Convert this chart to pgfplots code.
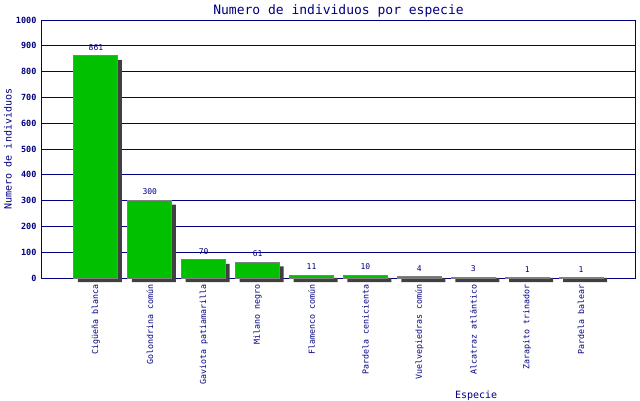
\documentclass[border=0pt]{standalone}
\usepackage{fontspec}
\setmainfont{DejaVu Sans Mono}
\usepackage{pgfplots}
\pgfplotsset{compat=1.18}
\usepackage{pgfplotstable}

\definecolor{navy}{RGB}{0,0,128}
\definecolor{barfill}{RGB}{0,192,0}
\definecolor{bardraw}{RGB}{128,128,128}
\definecolor{shadow}{RGB}{64,64,64}

% individuos por especie, en el orden del eje
% s: altura de la sombra (las barras bajas tienen una sombra minima)
\pgfplotstableread{
x y s
0 861 861
1 300 300
2 70 70
3 61 61
4 11 16
5 10 16
6 4 16
7 3 16
8 1 16
9 1 16
}\especies

\begin{document}
\begin{tikzpicture}
\path[use as bounding box] (0,0) rectangle (640pt,400pt);
\begin{axis}[
    at={(42pt,122pt)}, anchor=south west,
    scale only axis,
    width=593pt, height=258pt,
    xmin=-1, xmax=10,
    ymin=0, ymax=1000,
    clip=false,
    axis line style={navy, line width=1pt},
    major tick length=0pt,
    ytick={0,100,...,1000},
    ymajorgrids=true,
    grid style={navy, line width=1pt},
    /pgf/number format/assume math mode=true,
    /pgf/number format/1000 sep={},
    yticklabel style={font=\fontsize{8.5}{9}\selectfont\bfseries, text=navy, xshift=-2pt},
    xtick={0,...,9},
    xticklabels={Cigüeña blanca, Golondrina común, Gaviota patiamarilla, Milano negro,
      Flamenco común, Pardela cenicienta, Vuelvepiedras común, Alcatraz atlántico,
      Zarapito trinador, Pardela balear},
    xticklabel style={yshift=-3pt, rotate=90, anchor=east, font=\fontsize{8.3}{9}\selectfont, text=navy},
    title={Numero de individuos por especie},
    title style={at={(axis description cs:0.5,1)}, anchor=base, inner sep=0pt,
      font=\fontsize{13}{14}\selectfont, text=navy},
    ylabel={Numero de individuos},
    ylabel style={at={(axis description cs:-0.0573,0.5)}, anchor=center,
      font=\fontsize{10}{11}\selectfont, text=navy},
    xlabel={Especie},
    xlabel style={at={(axis description cs:0.732,0)}, anchor=north, yshift=-109pt,
      font=\fontsize{10}{11}\selectfont, text=navy},
]
\addplot[ybar, bar width=44pt, bar shift=4pt, yshift=-4pt, fill=shadow, draw=none]
  table[x=x, y=s] {\especies};
\addplot[ybar, bar width=44pt, bar shift=0pt, fill=barfill, draw=bardraw, line width=1pt,
    nodes near coords,
    every node near coord/.append style={font=\fontsize{8}{9}\selectfont, text=navy,
      anchor=south, inner sep=0pt, yshift=5pt}]
  table[x=x, y=y] {\especies};
\end{axis}
\end{tikzpicture}
\end{document}
